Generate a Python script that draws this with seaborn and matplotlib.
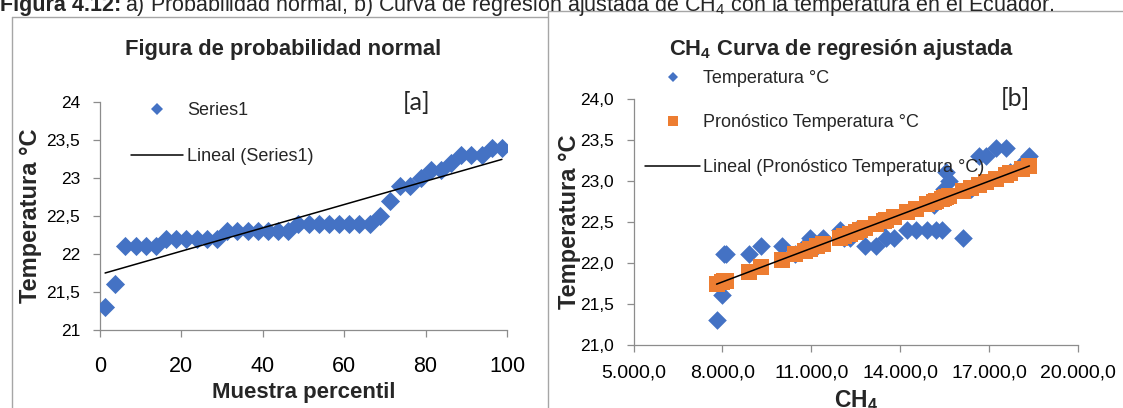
import numpy as np
import pandas as pd
import matplotlib
matplotlib.use("Agg")
import matplotlib.pyplot as plt
from matplotlib.lines import Line2D
from matplotlib.ticker import FuncFormatter, MultipleLocator
import seaborn as sns

# ---------------- data ----------------
percentil = [1.25, 3.75, 6.25, 8.75, 11.25, 13.75, 16.25, 18.75, 21.25, 23.75,
             26.25, 28.75, 31.25, 33.75, 36.25, 38.75, 41.25, 43.75, 46.25, 48.75,
             51.25, 53.75, 56.25, 58.75, 61.25, 63.75, 66.25, 68.75, 71.25, 73.75,
             76.25, 78.75, 81.25, 83.75, 86.25, 88.75, 91.25, 93.75, 96.25, 98.75]
temp_ordenada = [21.3, 21.6, 22.1, 22.1, 22.1, 22.1, 22.2, 22.2, 22.2, 22.2,
                 22.2, 22.2, 22.3, 22.3, 22.3, 22.3, 22.3, 22.3, 22.3, 22.4,
                 22.4, 22.4, 22.4, 22.4, 22.4, 22.4, 22.4, 22.5, 22.7, 22.9,
                 22.9, 23.0, 23.1, 23.1, 23.2, 23.3, 23.3, 23.3, 23.4, 23.4]

ch4 = [7800, 7970, 8050, 8120, 8900, 10450, 9300, 10000, 10780, 11200,
       12800, 13190, 10950, 11380, 12100, 12300, 13530, 13800, 16110, 11950,
       12500, 12650, 14240, 14540, 14920, 15210, 15420, 13450, 15150, 15480,
       16400, 15660, 15550, 17700, 18100, 16670, 16900, 18360, 17230, 17570]
temperatura = [21.3, 21.6, 22.1, 22.1, 22.1, 22.1, 22.2, 22.2, 22.2, 22.2,
               22.2, 22.2, 22.3, 22.3, 22.3, 22.3, 22.3, 22.3, 22.3, 22.4,
               22.4, 22.4, 22.4, 22.4, 22.4, 22.4, 22.4, 22.5, 22.7, 22.9,
               22.9, 23.0, 23.1, 23.1, 23.2, 23.3, 23.3, 23.3, 23.4, 23.4]

ticks_pct = [0, 20, 40, 60, 80, 100]
ticks_ch4 = [5000, 8000, 11000, 14000, 17000, 20000]

BLUE = "#4472C4"
ORANGE = "#ED7D31"
SPINE = "#8c8c8c"

# ---------------- style ----------------
sns.set_style("ticks")
plt.rcParams["font.family"] = ["Liberation Sans", "DejaVu Sans"]
plt.rcParams["mathtext.fontset"] = "custom"
plt.rcParams["mathtext.rm"] = "Liberation Sans"
plt.rcParams["mathtext.bf"] = "Liberation Sans:bold"
plt.rcParams["mathtext.it"] = "Liberation Sans:italic"

W, H = 1123, 408
fig = plt.figure(figsize=(W / 100, H / 100), dpi=100)
fig.patch.set_facecolor("white")


def fx(px):
    return px / W


def fy(py):
    return 1 - py / H


axL = fig.add_axes([fx(100), fy(330), fx(507) - fx(100), fy(102) - fy(330)])
axR = fig.add_axes([fx(633.6), fy(344.7), fx(1078) - fx(633.6), fy(98.7) - fy(344.7)])

# ---------------- left: normal probability ----------------
sns.scatterplot(x=percentil, y=temp_ordenada, ax=axL, marker="D", s=95,
                color=BLUE, linewidth=0, legend=False, zorder=3)
sns.regplot(x=percentil, y=temp_ordenada, ax=axL, scatter=False, ci=None,
            color="black", line_kws=dict(lw=1.1, zorder=4))

# ---------------- right: regression ----------------
df = pd.DataFrame({"CH4": ch4, "Temperatura": temperatura})
b, a = np.polyfit(df["CH4"], df["Temperatura"], 1)
df["Pronostico"] = a + b * df["CH4"]

sns.scatterplot(data=df, x="CH4", y="Temperatura", ax=axR, marker="D", s=90,
                color=BLUE, linewidth=0, legend=False, zorder=3)
sns.scatterplot(data=df, x="CH4", y="Pronostico", ax=axR, marker="s", s=120,
                color=ORANGE, linewidth=0, legend=False, zorder=3)
sns.regplot(data=df, x="CH4", y="Pronostico", ax=axR, scatter=False, ci=None,
            color="black", line_kws=dict(lw=1.1, zorder=4))

# ---------------- axes styling ----------------
for ax in (axL, axR):
    sns.despine(ax=ax)
    for s in ("left", "bottom"):
        ax.spines[s].set_color(SPINE)
        ax.spines[s].set_linewidth(0.9)
    ax.set_facecolor("white")
    ax.tick_params(axis="both", which="major", direction="out", length=5,
                   width=0.9, color=SPINE, labelcolor="black")

axL.set_xlim(0, 100)
axL.set_ylim(21, 24)
axL.set_xticks(ticks_pct)
axL.yaxis.set_major_locator(MultipleLocator(0.5))
axL.yaxis.set_major_formatter(FuncFormatter(lambda v, p: ("%g" % v).replace(".", ",")))
axL.tick_params(axis="x", labelsize=15.5, pad=14)
axL.tick_params(axis="y", labelsize=12.5, pad=9.4)

axR.set_xlim(5000, 20000)
axR.set_ylim(21, 24)
axR.set_xticks(ticks_ch4)
axR.yaxis.set_major_locator(MultipleLocator(0.5))
axR.yaxis.set_major_formatter(FuncFormatter(lambda v, p: ("%.1f" % v).replace(".", ",")))
axR.xaxis.set_major_formatter(FuncFormatter(
    lambda v, p: ("{:,.1f}".format(v)).replace(",", "X").replace(".", ",").replace("X", ".")))
axR.tick_params(axis="x", labelsize=14, pad=9)
axR.tick_params(axis="y", labelsize=12.5, pad=9)

# axis labels
axL.set_xlabel("Muestra percentil", fontsize=16, fontweight="bold")
axL.xaxis.set_label_coords(0.5, -0.226)
axL.set_ylabel("Temperatura °C", fontsize=17, fontweight="bold")
axL.yaxis.set_label_coords(-0.1425, 0.5)

axR.set_xlabel(r"CH$_{\mathbf{4}}$", fontsize=16.5, fontweight="bold")
axR.xaxis.set_label_coords(0.5, -0.176)
axR.set_ylabel("Temperatura °C", fontsize=17, fontweight="bold")
axR.yaxis.set_label_coords(-0.118, 0.5)

# titles
fig.text(fx(283), fy(55), "Figura de probabilidad normal", ha="center",
         va="baseline", fontsize=15.8, fontweight="bold")
fig.text(fx(842), fy(55), r"CH$_{\mathbf{4}}$ Curva de regresión ajustada", ha="center",
         va="baseline", fontsize=15.8, fontweight="bold")

fig.text(fx(417), fy(103), "[a]", ha="center", va="center", fontsize=18,
         family=["Lato", "DejaVu Sans"])
fig.text(fx(1015), fy(98), "[b]", ha="center", va="center", fontsize=18,
         family=["Lato", "DejaVu Sans"])

# legends
hL = [Line2D([], [], ls="none", marker="D", ms=6.1, color=BLUE, mew=0),
      Line2D([], [], color="black", lw=1.1)]
axL.legend(hL, ["Series1", "Lineal (Series1)"], loc="upper left",
           bbox_to_anchor=(fx(131), fy(102)), bbox_transform=fig.transFigure,
           frameon=False, fontsize=13, handlelength=2.89, handletextpad=0.22,
           labelspacing=1.61, borderpad=0, borderaxespad=0)

hR = [Line2D([], [], ls="none", marker="D", ms=4.6, color=BLUE, mew=0),
      Line2D([], [], ls="none", marker="s", ms=7.2, color=ORANGE, mew=0),
      Line2D([], [], color="black", lw=1.1)]
axR.legend(hR, ["Temperatura °C", "Pronóstico Temperatura °C",
                "Lineal (Pronóstico Temperatura °C)"], loc="upper left",
           bbox_to_anchor=(fx(645), fy(70)), bbox_transform=fig.transFigure,
           frameon=False, fontsize=13, handlelength=3.05, handletextpad=0.15,
           labelspacing=1.52, borderpad=0, borderaxespad=0)

# caption (partially cut at top)
cap1 = fig.text(0, fy(11), "Figura 4.12:", ha="left", va="baseline",
                fontsize=15.5, fontweight="bold")
fig.canvas.draw()
bb = cap1.get_window_extent(renderer=fig.canvas.get_renderer())
fig.text(bb.x1 / W + fx(4), fy(11),
         r"a) Probabilidad normal, b) Curva de regresión ajustada de CH$_4$ con la temperatura en el Ecuador.",
         ha="left", va="baseline", fontsize=15.5)

# panel borders
BORDER = "#a6a6a6"
for (x0, y0, x1, y1) in [(12, 17, 12, 408), (12, 17, 548, 17),
                         (548, 11, 548, 408), (548, 11, 1123, 11)]:
    fig.add_artist(Line2D([fx(x0), fx(x1)], [fy(y0), fy(y1)],
                          transform=fig.transFigure, color=BORDER, lw=1.0))

fig.savefig("out.png", dpi=100, facecolor="white")
